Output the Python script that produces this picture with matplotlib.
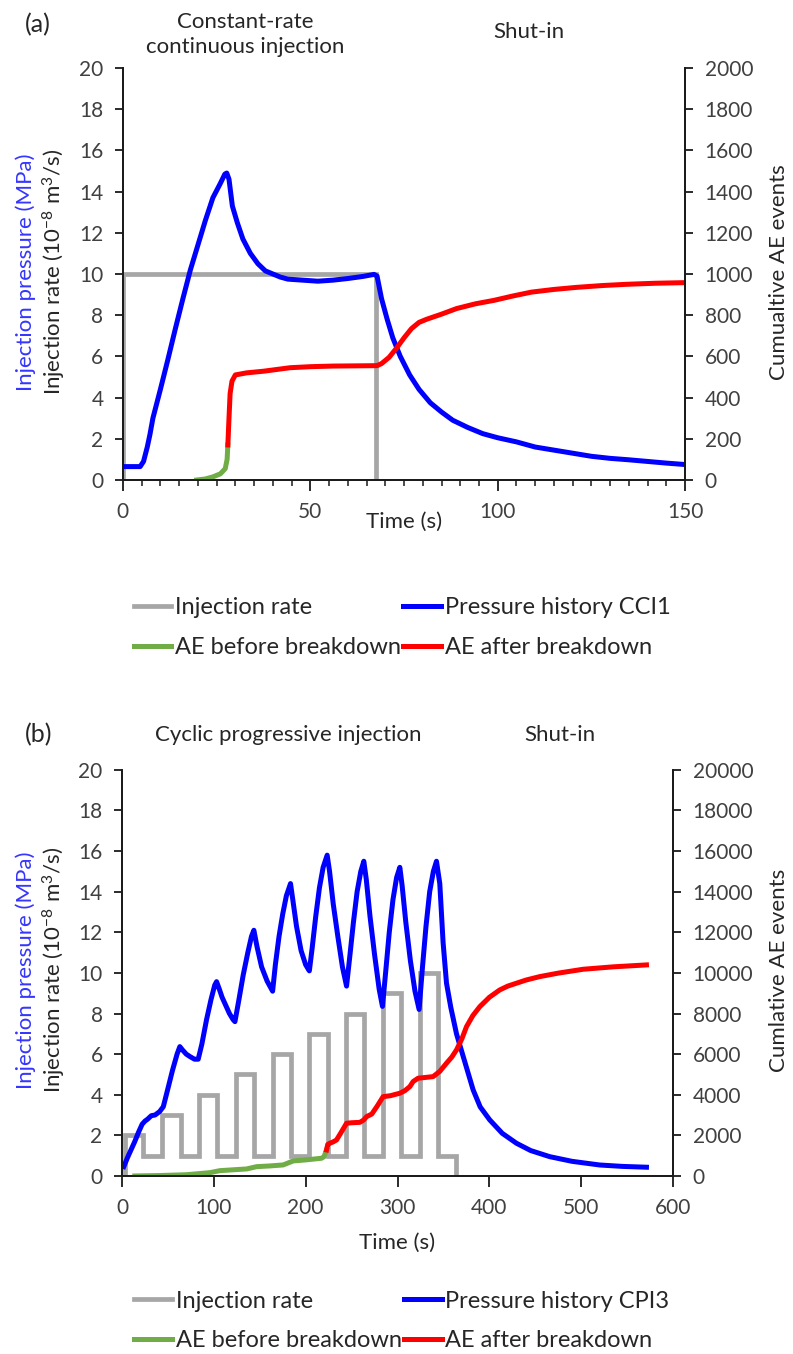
import matplotlib
matplotlib.use("Agg")
from matplotlib import pyplot as plt
from matplotlib.ticker import MultipleLocator

# ---- panel (a): constant-rate continuous injection ----
a_rate_edges = [0, 67.6]
a_rate_vals = [10]

a_t_p = [0, 4.6, 5.5, 6.5, 7.2, 8, 10, 12, 14, 16, 18, 20, 22, 24, 26, 27.2, 27.7,
         28.3, 29.2, 30.5, 32, 34, 36, 38, 40, 42, 44, 48, 52, 56, 60, 64, 67, 67.8,
         69, 70.5, 72, 74, 76.5, 79, 82, 85, 88, 92, 96, 100, 105, 110, 115, 120,
         125, 130, 135, 140, 145, 150]
a_p = [0.65, 0.65, 0.9, 1.6, 2.2, 3.0, 4.4, 5.85, 7.35, 8.8, 10.2, 11.4, 12.6, 13.7, 14.4,
       14.85, 14.9, 14.6, 13.3, 12.5, 11.7, 11.0, 10.5, 10.15, 10.0, 9.85, 9.75, 9.7, 9.65,
       9.7, 9.78, 9.88, 9.98, 9.9, 8.8, 7.8, 6.9, 6.0, 5.1, 4.4, 3.75, 3.3, 2.9, 2.55, 2.25,
       2.05, 1.85, 1.6, 1.45, 1.3, 1.15, 1.05, 0.98, 0.9, 0.82, 0.75]

a_t_ae_pre = [19.7, 22, 24, 26, 27.3, 27.8, 28.0]
a_ae_pre = [0, 5, 15, 30, 55, 100, 170]
a_t_ae_post = [28.0, 28.3, 28.6, 29.1, 30, 33, 37.5, 44.6, 50, 56, 67.8, 69, 71, 73, 75, 77,
               79, 81, 85, 89, 94, 99, 104, 109, 115, 121, 128, 134.5, 142, 150]
a_ae_post = [170, 300, 420, 480, 510, 520, 528, 545, 550, 553, 555, 565, 595, 640, 690, 735,
             765, 780, 805, 832, 855, 872, 893, 912, 925, 935, 944, 950, 955, 958]

# ---- panel (b): cyclic progressive injection ----
b_rate_edges = [3, 23, 44, 64, 84, 104, 124, 144, 164, 184, 204, 224, 244, 264, 284, 304,
                324, 344, 364]
b_rate_vals = [2, 1, 3, 1, 4, 1, 5, 1, 6, 1, 7, 1, 8, 1, 9, 1, 10, 1]

b_t_p = [2, 6, 10, 14, 18, 22, 25, 28, 32, 36, 41, 45, 50, 55, 60, 63, 66, 70, 74, 79, 83,
         87, 92, 97, 101, 103, 106, 109, 112, 117, 121, 123,
         127, 132, 137, 141, 143.6, 147, 152, 158, 164,
         167, 171, 175, 179, 183.5, 186, 190, 195, 200, 204,
         207, 211, 215, 219, 223.4, 226, 230, 235, 240, 244.5,
         248, 252, 256, 260, 263.3, 266, 270, 275, 280, 283.6,
         287, 291, 295, 299, 302.5, 305, 309, 314, 319, 323.5,
         327, 331, 335, 339, 342.4, 346, 349.6, 353.3, 358, 364.2, 371.4, 382.3, 390,
         400.4, 414, 429.5, 445, 465.7, 490, 520, 545, 571]
b_p = [0.46, 0.9, 1.3, 1.7, 2.15, 2.55, 2.7, 2.8, 2.97, 3.0, 3.17, 3.41, 4.3, 5.2, 6.0, 6.37,
       6.2, 6.0, 5.88, 5.75, 5.75, 6.5, 7.68, 8.7, 9.4, 9.57, 9.2, 8.8, 8.5, 8.0, 7.7, 7.6,
       8.6, 9.9, 11.0, 11.8, 12.1, 11.3, 10.3, 9.6, 9.1,
       10.4, 11.8, 12.9, 13.8, 14.4, 13.6, 12.3, 11.1, 10.4, 10.1,
       11.2, 12.8, 14.2, 15.2, 15.8, 15.0, 13.4, 11.8, 10.3, 9.35,
       10.8, 12.5, 14.0, 15.0, 15.5, 14.6, 12.8, 10.9, 9.2, 8.35,
       10.0, 12.0, 13.6, 14.7, 15.2, 14.3, 12.5, 10.6, 9.1, 8.2,
       10.2, 12.3, 14.0, 15.0, 15.5, 14.4, 11.5, 9.5, 8.3, 7.0, 5.9, 4.24, 3.4,
       2.76, 2.1, 1.61, 1.25, 0.95, 0.72, 0.54, 0.47, 0.43]

b_t_ae_pre = [14, 40, 70, 95.8, 106.6, 120, 135.7, 146.6, 160, 175.5, 186.4, 200, 217.3,
              220, 222.7]
b_ae_pre = [0, 20, 60, 163, 261, 300, 345, 458, 490, 542, 739, 790, 872, 950, 1280]
b_t_ae_post = [222.7, 224, 226.3, 230, 233.6, 238, 244.5, 250, 259, 263, 266.3, 272, 278,
               284.3, 292, 302.5, 308, 313.4, 317, 322.4, 330, 338.7, 346, 353.3, 359,
               364.2, 370, 375.1, 382, 389.6, 400, 411.3, 420, 429.5, 440, 454.8, 475,
               502, 535, 571]
b_ae_post = [1280, 1550, 1610, 1680, 1773, 2100, 2596, 2620, 2640, 2750, 2921, 3050, 3450,
             3906, 3950, 4074, 4200, 4400, 4650, 4813, 4850, 4892, 5150, 5552, 5850, 6207,
             6750, 7355, 7900, 8340, 8800, 9163, 9350, 9493, 9650, 9818, 9990, 10180,
             10300, 10394]

GRAY = "#a6a6a6"
BLUE = "#0000ff"
GREEN = "#70ad47"
RED = "#ff0000"
LABEL_BLUE = "#3535ff"

plt.rcParams["font.family"] = ["Lato", "DejaVu Sans"]
plt.rcParams["mathtext.fontset"] = "custom"
plt.rcParams["mathtext.rm"] = "Lato"
plt.rcParams["mathtext.it"] = "Lato:italic"
plt.rcParams["font.size"] = 15
plt.rcParams["text.color"] = "#262626"

fig = plt.figure(figsize=(7.93, 13.54), dpi=100)


def panel(rect, edges, rates, t_p, p, t_pre, ae_pre, t_post, ae_post,
          xmax, xmajor, xminor, ae_max, ae_step, pressure_label):
    ax = fig.add_axes(rect)
    ax.stairs(rates, edges, baseline=0, color=GRAY, linewidth=3.4, label="Injection rate")
    ax.plot(t_p, p, color=BLUE, linewidth=3.6, label=pressure_label)
    ax.set_xlim(0, xmax)
    ax.set_ylim(0, 20)
    ax.xaxis.set_major_locator(MultipleLocator(xmajor))
    if xminor:
        ax.xaxis.set_minor_locator(MultipleLocator(xminor))
    ax.yaxis.set_major_locator(MultipleLocator(2))

    ax2 = ax.twinx()
    ax2.plot(t_pre, ae_pre, color=GREEN, linewidth=3.6, label="AE before breakdown")
    ax2.plot(t_post, ae_post, color=RED, linewidth=3.6, label="AE after breakdown")
    ax2.set_ylim(0, ae_max)
    ax2.yaxis.set_major_locator(MultipleLocator(ae_step))

    for a in (ax, ax2):
        a.spines["top"].set_visible(False)
        for s in a.spines.values():
            s.set_linewidth(1.3)
            s.set_color("#1a1a1a")
        a.tick_params(which="major", direction="out", length=6, width=1.3,
                      colors="#1a1a1a", labelcolor="#404040", labelsize=15, pad=8)
        a.tick_params(which="minor", direction="out", length=4, width=1.1, colors="#1a1a1a")
    ax.tick_params(axis="x", which="major", length=8)
    return ax, ax2


ax_a, ax_a2 = panel([0.155, 0.6455, 0.709, 0.3043], a_rate_edges, a_rate_vals,
                    a_t_p, a_p, a_t_ae_pre, a_ae_pre, a_t_ae_post, a_ae_post,
                    150, 50, 5, 2000, 200, "Pressure history CCI1")
ax_b, ax_b2 = panel([0.1538, 0.1315, 0.695, 0.2999], b_rate_edges, b_rate_vals,
                    b_t_p, b_p, b_t_ae_pre, b_ae_pre, b_t_ae_post, b_ae_post,
                    600, 100, None, 20000, 2000, "Pressure history CPI3")

# headers
fig.text(0.0315, 0.982, "(a)", fontsize=18, ha="left", va="center")
fig.text(0.309, 0.9745, "Constant-rate\ncontinuous injection", fontsize=16, ha="center",
         va="center", linespacing=1.3)
fig.text(0.667, 0.976, "Shut-in", fontsize=16, ha="center", va="center")
fig.text(0.0315, 0.4572, "(b)", fontsize=18, ha="left", va="center")
fig.text(0.363, 0.4572, "Cyclic progressive injection", fontsize=16, ha="center", va="center")
fig.text(0.706, 0.4572, "Shut-in", fontsize=16, ha="center", va="center")

# axis titles
for ax, yc, xl_y, right_label in [(ax_a, 0.799, 0.6145, "Cumualtive AE events"),
                                  (ax_b, 0.2836, 0.0820, "Cumlative AE events")]:
    box = ax.get_position()
    fig.text(0.032, yc, "Injection pressure (MPa)", color=LABEL_BLUE, rotation=90,
             ha="center", va="center", fontsize=16)
    fig.text(0.068, yc, r"Injection rate (10$^{-8}$ m$^3$/s)", rotation=90,
             ha="center", va="center", fontsize=16)
    fig.text(0.982, yc, right_label, rotation=90, ha="center", va="center", fontsize=16)
    fig.text((box.x0 + box.x1) / 2, xl_y, "Time (s)", ha="center", va="center", fontsize=16)

# legends
for ax, ax2, ypos in [(ax_a, ax_a2, 0.5363), (ax_b, ax_b2, 0.0244)]:
    h1, l1 = ax.get_legend_handles_labels()
    h2, l2 = ax2.get_legend_handles_labels()
    handles = [h1[0], h2[0], h1[1], h2[1]]
    labels = [l1[0], l2[0], l1[1], l2[1]]
    fig.legend(handles, labels, ncol=2, loc="center", bbox_to_anchor=(0.507, ypos),
               frameon=False, fontsize=17, handlelength=1.6, handletextpad=0.15,
               columnspacing=0.1, labelspacing=0.8, borderaxespad=0)

fig.savefig("out.png", dpi=100)
